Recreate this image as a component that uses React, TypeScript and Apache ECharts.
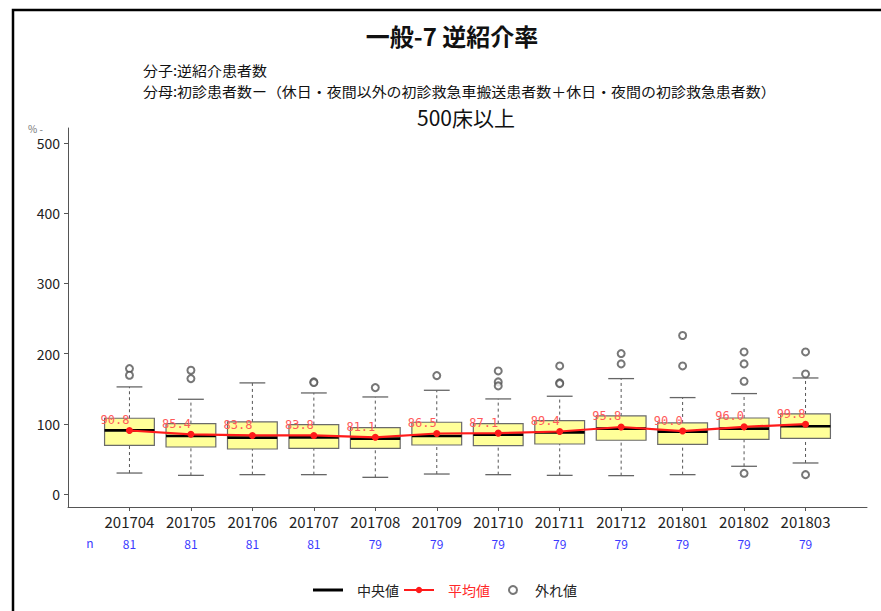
import React, { useEffect, useRef } from 'react';
import * as echarts from 'echarts';

const months = ['201704', '201705', '201706', '201707', '201708', '201709', '201710', '201711', '201712', '201801', '201802', '201803'];
const nCounts = [81, 81, 81, 81, 79, 79, 79, 79, 79, 79, 79, 79];
const whiskerLow = [30.3, 27, 28, 28, 24.2, 28.9, 28, 27, 26.6, 28, 39.9, 44.6];
const q1 = [69.7, 67.3, 64.5, 65.5, 65.5, 70.2, 69.2, 71.6, 76.9, 71.2, 78.3, 79.7];
const medians = [91, 83, 80.7, 81, 79.2, 83, 85, 88.2, 93.5, 89.2, 93.5, 96.8];
const q3 = [108.2, 100.6, 103, 99.2, 94.9, 102.5, 100.6, 104.9, 111.5, 101.5, 108.6, 114.3];
const whiskerHigh = [152.8, 135.2, 158.5, 144.2, 138.5, 148, 135.7, 139.5, 164.6, 137.6, 143.3, 165.5];
const means = [90.8, 85.4, 83.8, 83.8, 81.1, 86.5, 87.1, 89.4, 95.8, 90.0, 96.0, 99.8];
const outliers: number[][] = [
  [178.9, 169.4],
  [176.5, 164.6],
  [],
  [159.9, 159.0],
  [151.8],
  [168.9],
  [175.5, 159.9, 154.2],
  [182.6, 158.5, 157.5],
  [200.2, 185.5],
  [225.9, 182.6],
  [202.5, 185.5, 160.8, 29.9],
  [202.5, 171.2, 28],
];
const yTicks = [0, 100, 200, 300, 400, 500];
const subtitleLines = ['分子:逆紹介患者数', '分母:初診患者数ー（休日・夜間以外の初診救急車搬送患者数＋休日・夜間の初診救急患者数）'];

const FONT = '"Noto Sans CJK JP", "Noto Sans", sans-serif';

export default function App() {
  const ref = useRef<HTMLDivElement>(null);
  useEffect(() => {
    if (!ref.current) return;
    const chart = echarts.init(ref.current, undefined, { renderer: 'svg' });
    const xPos = months.map((_, i) => i + 1);
    const boxData = months.map((_, i) => [xPos[i], whiskerLow[i], q1[i], medians[i], q3[i], whiskerHigh[i]]);
    const meanData = months.map((_, i) => [xPos[i], means[i]]);
    const outData: number[][] = [];
    outliers.forEach((arr, i) => arr.forEach((v) => outData.push([xPos[i], v])));

    const option: any = {
      animation: false,
      backgroundColor: '#fff',
      textStyle: { fontFamily: FONT },
      grid: { left: 68, right: 14, top: 128, bottom: 104, containLabel: false },
      xAxis: [
        {
          type: 'value',
          min: 0,
          max: 13,
          axisLine: { show: true, onZero: false, lineStyle: { color: '#555', width: 1 } },
          axisTick: { show: true, length: 4, customValues: xPos, lineStyle: { color: '#555' } },
          axisLabel: {
            customValues: xPos,
            formatter: (v: number) => months[Math.round(v) - 1] ?? '',
            color: '#222',
            fontSize: 15,
            margin: 7,
            fontFamily: FONT,
          },
          splitLine: { show: false },
        },
        {
          type: 'value',
          min: 0,
          max: 13,
          position: 'bottom',
          offset: 22,
          axisLine: { show: false, onZero: false },
          axisTick: { show: false },
          axisLabel: {
            customValues: xPos,
            formatter: (v: number) => String(nCounts[Math.round(v) - 1] ?? ''),
            color: '#3a3aff',
            fontSize: 12,
            margin: 8,
            fontFamily: FONT,
          },
          splitLine: { show: false },
        },
      ],
      yAxis: {
        type: 'value',
        min: -18,
        max: 521,
        axisLine: { show: true, onZero: false, lineStyle: { color: '#555', width: 1 } },
        axisTick: { show: true, length: 4, customValues: yTicks, lineStyle: { color: '#555' } },
        axisLabel: { customValues: yTicks, color: '#222', fontSize: 14, margin: 8, fontFamily: FONT },
        splitLine: { show: false },
      },
      legend: {
        left: 308,
        top: 578,
        itemWidth: 30,
        itemHeight: 8,
        itemGap: 4,
        textStyle: { fontSize: 14, color: '#222', fontFamily: FONT },
        formatter: (name: string) => (name === '平均値' ? name + '\u3000' : name),
        data: [
          { name: '中央値', icon: 'path://M0,0M30,8M0,2.5H30V5.5H0Z', textStyle: { padding: [0, 0, 0, 9] } },
          { name: '平均値', textStyle: { color: '#ff2a2a', padding: [0, 0, 0, 9] } },
          { name: '外れ値', textStyle: { padding: [0, 0, 0, 2] } },
        ],
      },
      graphic: [
        {
          type: 'rect',
          silent: true,
          z: -10,
          shape: { x: 13, y: 10, width: 1200, height: 1200 },
          style: { fill: 'transparent', stroke: '#000', lineWidth: 2.5 },
        },
        {
          type: 'text',
          x: 452,
          y: 35,
          style: { text: '一般-7 逆紹介率', fill: '#111', fontSize: 24, fontWeight: 'bold', fontFamily: FONT, align: 'center', verticalAlign: 'middle' },
        },
        {
          type: 'text',
          x: 143,
          y: 69.5,
          scaleX: 1.07,
          style: { text: subtitleLines[0], fill: '#111', fontSize: 14, fontFamily: FONT, align: 'left', verticalAlign: 'middle' },
        },
        {
          type: 'text',
          x: 143,
          y: 90.5,
          scaleX: 1.07,
          style: { text: subtitleLines[1], fill: '#111', fontSize: 14, fontFamily: FONT, align: 'left', verticalAlign: 'middle' },
        },
        {
          type: 'text',
          x: 466,
          y: 117,
          style: { text: '500床以上', fill: '#111', fontSize: 21, fontFamily: FONT, align: 'center', verticalAlign: 'middle' },
        },
        {
          type: 'text',
          x: 28,
          y: 128,
          style: { text: '% -', fill: '#777', fontSize: 10, fontFamily: FONT, align: 'left', verticalAlign: 'middle' },
        },
        {
          type: 'text',
          x: 90,
          y: 542,
          style: { text: 'n', fill: '#3a3aff', fontSize: 12, fontFamily: FONT, align: 'center', verticalAlign: 'middle' },
        },
      ],
      series: [
        {
          name: '中央値',
          type: 'custom',
          itemStyle: { color: '#000' },
          encode: { x: 0, y: [1, 2, 3, 4, 5] },
          data: boxData,
          z: 2,
          renderItem: (params: any, api: any) => {
            const x = api.value(0);
            const pLo = api.coord([x, api.value(1)]);
            const pQ1 = api.coord([x, api.value(2)]);
            const pMed = api.coord([x, api.value(3)]);
            const pQ3 = api.coord([x, api.value(4)]);
            const pHi = api.coord([x, api.value(5)]);
            const band = api.size([1, 0])[0];
            const half = band * 0.405;
            const cap = band * 0.21;
            const cx = pLo[0];
            const whisk = { stroke: '#555', lineWidth: 1, lineDash: [3, 3] };
            const capStyle = { stroke: '#666', lineWidth: 1.3 };
            return {
              type: 'group',
              children: [
                { type: 'line', shape: { x1: cx, y1: pLo[1], x2: cx, y2: pQ1[1] }, style: whisk },
                { type: 'line', shape: { x1: cx, y1: pQ3[1], x2: cx, y2: pHi[1] }, style: whisk },
                { type: 'line', shape: { x1: cx - cap, y1: pLo[1], x2: cx + cap, y2: pLo[1] }, style: capStyle },
                { type: 'line', shape: { x1: cx - cap, y1: pHi[1], x2: cx + cap, y2: pHi[1] }, style: capStyle },
                {
                  type: 'rect',
                  shape: { x: cx - half, y: pQ3[1], width: half * 2, height: pQ1[1] - pQ3[1] },
                  style: { fill: '#ffff99', stroke: '#6a6a6a', lineWidth: 1.2 },
                },
                { type: 'line', shape: { x1: cx - half, y1: pMed[1], x2: cx + half, y2: pMed[1] }, style: { stroke: '#000', lineWidth: 2.6 } },
              ],
            };
          },
        },
        {
          name: '平均値',
          type: 'line',
          data: meanData,
          z: 5,
          color: '#ff1a1a',
          lineStyle: { color: '#ff1a1a', width: 2.2 },
          symbol: 'circle',
          symbolSize: 7,
          itemStyle: { color: '#ff1a1a' },
          label: {
            show: true,
            position: 'top',
            align: 'right',
            distance: 1,
            color: '#ff5a5a',
            fontSize: 12,
            fontFamily: '"DejaVu Sans Mono", monospace',
            formatter: (p: any) => Number(p.value[1]).toFixed(1),
          },
        },
        {
          name: '外れ値',
          type: 'scatter',
          data: outData,
          z: 4,
          symbol: 'emptyCircle',
          symbolSize: 7,
          itemStyle: { color: '#555', borderWidth: 1.2 },
        },
      ],
    };
    chart.setOption(option);
    return () => chart.dispose();
  }, []);
  return <div ref={ref} style={{ position: 'fixed', left: 0, top: 0, width: 881, height: 611, background: '#fff' }} />;
}
